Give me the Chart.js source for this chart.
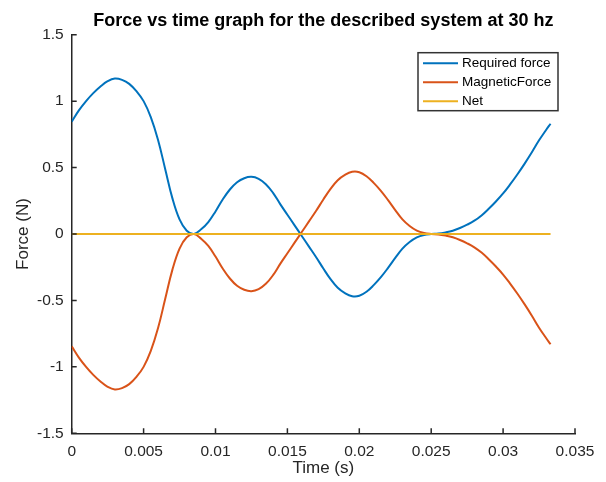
<!DOCTYPE html>
<html>
<head>
<meta charset="utf-8">
<script src="https://cdn.jsdelivr.net/npm/chart.js@4.4.0/dist/chart.umd.min.js"></script>
<style>
  body{margin:0;background:#fff;}
  #wrap{width:606px;height:482px;}
</style>
</head>
<body>
<div id="wrap"><canvas id="myChart" width="606" height="482"></canvas></div>
<script>
// values, every 0.5 ms
let timeVals=[0,0.0005,0.001,0.0015,0.002,0.0025,0.003,0.0035,0.004,0.0045,
    0.005,0.0055,0.006,0.0065,0.007,0.0075,0.008,0.0085,0.009,0.0095,
    0.010,0.0105,0.011,0.0115,0.012,0.0125,0.013,0.0135,0.014,0.0145,
    0.015,0.0155,0.016,0.0165,0.017,0.0175,0.018,0.0185,0.019,0.0195,
    0.020,0.0205,0.021,0.0215,0.022,0.0225,0.023,0.0235,0.024,0.0245,
    0.025,0.0255,0.026,0.0265,0.027,0.0275,0.028,0.0285,0.029,0.0295,
    0.030,0.0305,0.031,0.0315,0.032,0.0325,0.033,0.0333];
let requiredForce=[0.845,0.93,1.00,1.06,1.11,1.15,1.17,1.16,1.13,1.075,
    1.00,0.88,0.71,0.49,0.27,0.11,0.025,0,0.035,0.09,
    0.17,0.26,0.335,0.39,0.42,0.43,0.415,0.375,0.31,0.225,
    0.145,0.065,-0.015,-0.095,-0.175,-0.26,-0.34,-0.405,-0.445,-0.468,
    -0.465,-0.435,-0.385,-0.325,-0.255,-0.18,-0.11,-0.06,-0.025,-0.007,
    0,0.003,0.012,0.025,0.045,0.07,0.10,0.14,0.19,0.245,
    0.305,0.375,0.45,0.53,0.615,0.705,0.785,0.83];
let magneticForce=[-0.845,-0.93,-1.00,-1.06,-1.11,-1.15,-1.17,-1.16,-1.13,-1.075,
    -1.00,-0.88,-0.71,-0.49,-0.27,-0.11,-0.025,0,-0.035,-0.09,
    -0.17,-0.26,-0.335,-0.39,-0.42,-0.43,-0.415,-0.375,-0.31,-0.225,
    -0.145,-0.065,0.015,0.095,0.175,0.26,0.34,0.405,0.445,0.468,
    0.465,0.435,0.385,0.325,0.255,0.18,0.11,0.06,0.025,0.007,
    0,-0.003,-0.012,-0.025,-0.045,-0.07,-0.10,-0.14,-0.19,-0.245,
    -0.305,-0.375,-0.45,-0.53,-0.615,-0.705,-0.785,-0.83];
let netForce=[0,0,0,0,0,0,0,0,0,0,
    0,0,0,0,0,0,0,0,0,0,
    0,0,0,0,0,0,0,0,0,0,
    0,0,0,0,0,0,0,0,0,0,
    0,0,0,0,0,0,0,0,0,0,
    0,0,0,0,0,0,0,0,0,0,
    0,0,0,0,0,0,0,0];
let seriesNames=["Required force","MagneticForce","Net"];
let seriesColors=["#0072BD","#D95319","#EDB120"];
let xTicks=[0,0.005,0.01,0.015,0.02,0.025,0.03,0.035];
let yTicks=[-1.5,-1,-0.5,0,0.5,1,1.5];
let titleText="Force vs time graph for the described system at 30 hz";
let xTitle="Time (s)";
let yTitle="Force (N)";

let fontName="'Liberation Sans', Arial, Helvetica, sans-serif";
let axisColor="#262626";

function $(id){
    return document.getElementById(id);
}

function toPoints(ys){
    let pts=[];
    for(let i=0;i<timeVals.length;i++){
        pts.push({x:timeVals[i],y:ys[i]});
    }
    return pts;
}

// MATLAB style ticks point into the plot
let innerTicks={
    id:"innerTicks",
    afterDraw(chart){
        let ctx=chart.ctx;
        let a=chart.chartArea;
        let sx=chart.scales.x;
        let sy=chart.scales.y;
        ctx.save();
        ctx.strokeStyle=axisColor;
        ctx.lineWidth=1.5;
        ctx.beginPath();
        xTicks.forEach(function(v){
            let px=sx.getPixelForValue(v);
            ctx.moveTo(px,a.bottom);
            ctx.lineTo(px,a.bottom-5);
        });
        yTicks.forEach(function(v){
            let py=sy.getPixelForValue(v);
            ctx.moveTo(a.left,py);
            ctx.lineTo(a.left+5,py);
        });
        ctx.stroke();

        // title over the plot area
        ctx.fillStyle="#000";
        ctx.font="bold 18px "+fontName;
        ctx.textAlign="center";
        ctx.textBaseline="middle";
        ctx.fillText(titleText,(a.left+a.right)/2,21);
        ctx.restore();
    }
};

let boxLegend={
    id:"boxLegend",
    afterDraw(chart){
        let ctx=chart.ctx;
        let a=chart.chartArea;
        let right=a.right-17;
        let left=right-140;
        let top=a.top+18;
        let h=58;
        ctx.save();
        ctx.fillStyle="#fff";
        ctx.fillRect(left,top,right-left,h);
        ctx.strokeStyle="#333";
        ctx.lineWidth=1.5;
        ctx.strokeRect(left,top,right-left,h);
        ctx.font="13.5px "+fontName;
        ctx.textBaseline="middle";
        ctx.textAlign="left";
        chart.data.datasets.forEach(function(ds,i){
            let y=top+10.5+i*19;
            ctx.strokeStyle=ds.borderColor;
            ctx.lineWidth=2;
            ctx.beginPath();
            ctx.moveTo(left+5,y);
            ctx.lineTo(left+40,y);
            ctx.stroke();
            ctx.fillStyle="#000";
            ctx.fillText(ds.label,left+44,y);
        });
        ctx.restore();
    }
};

let series=[requiredForce,magneticForce,netForce];
let datasets=series.map(function(s,i){
    return {
        label:seriesNames[i],
        data:toPoints(s),
        borderColor:seriesColors[i],
        borderWidth:2,
        pointRadius:0,
        fill:false,
        tension:0.4,
        order:3-i
    };
});

new Chart($("myChart"),{
    type:"line",
    data:{datasets:datasets},
    plugins:[innerTicks,boxLegend],
    options:{
        responsive:false,
        devicePixelRatio:1,
        animation:false,
        layout:{padding:{top:34.7,right:31,bottom:0,left:0}},
        plugins:{legend:{display:false},title:{display:false},tooltip:{enabled:false}},
        scales:{
            x:{
                type:"linear",
                min:0,max:0.035,
                afterBuildTicks:function(scale){ scale.ticks=xTicks.map(function(v){return {value:v};}); },
                afterFit:function(scale){ scale.height=48.7; },
                grid:{display:false,drawTicks:false},
                border:{display:true,color:axisColor,width:1.5},
                ticks:{color:axisColor,font:{family:fontName,size:15.5},padding:9,maxRotation:0,autoSkip:false,
                    callback:function(v){ return String(v); }},
                title:{display:true,text:xTitle,color:axisColor,font:{family:fontName,size:17},padding:{top:0,bottom:3}}
            },
            y:{
                type:"linear",
                min:-1.5,max:1.5,
                afterBuildTicks:function(scale){ scale.ticks=yTicks.map(function(v){return {value:v};}); },
                afterFit:function(scale){ scale.width=71.7; },
                grid:{display:false,drawTicks:false},
                border:{display:true,color:axisColor,width:1.5},
                ticks:{color:axisColor,font:{family:fontName,size:15.5},padding:8,autoSkip:false,
                    callback:function(v){ return String(v); }},
                title:{display:true,text:yTitle,color:axisColor,font:{family:fontName,size:17},padding:{top:13,bottom:0}}
            }
        }
    }
});
</script>
</body>
</html>
